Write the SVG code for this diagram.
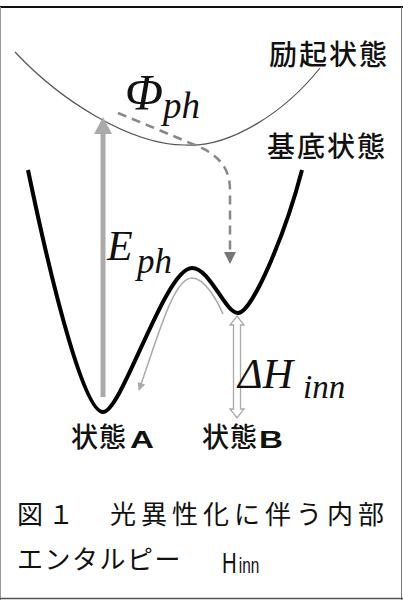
<svg xmlns="http://www.w3.org/2000/svg" width="403" height="600" viewBox="0 0 403 600">
<style>
.jp{font-family:"Noto Sans CJK JP","Noto Sans",sans-serif;fill:#111}
.lb{font-weight:500}
.m{font-family:"Liberation Serif","Times New Roman",serif;font-style:italic;fill:#111}
.b{font-family:"Liberation Sans",Arial,sans-serif;font-weight:bold;fill:#111}
.s{font-family:"Liberation Sans",Arial,sans-serif;fill:#111}
</style>
<defs>
<clipPath id="clipR"><rect x="0" y="0" width="388" height="600"/></clipPath>
<marker id="gArrow" viewBox="0 0 10 10" refX="9" refY="5" markerWidth="10" markerHeight="8" markerUnits="userSpaceOnUse" orient="auto">
<path d="M0,0 L10,5 L0,10 Z" fill="#aaa"/>
</marker>
</defs>
<rect x="0" y="0" width="403" height="600" fill="#fff"/>
<g id="frame">
<line x1="0" y1="7" x2="403" y2="7" stroke="#111" stroke-width="2"/>
<line x1="0.5" y1="7" x2="0.5" y2="600" stroke="#999" stroke-width="1"/>
<line x1="401.5" y1="7" x2="401.5" y2="600" stroke="#777" stroke-width="1"/>
<line x1="0" y1="598.5" x2="403" y2="598.5" stroke="#555" stroke-width="1.5"/>
</g>
<g id="curves">
<path id="excited-curve" d="M15,52 C60,100 130,145 185,145 C230,148 285,112 320,68" fill="none" stroke="#555" stroke-width="1.2"/>
<path id="ground-curve" d="M28,170 C55,300 85,412 103,412 C122,412 165,268 192,268 C210,268 225,313 238,313 C252,313 285,235 302,170" fill="none" stroke="#000" stroke-width="4"/>
</g>
<g id="connectors">
<line x1="103" y1="397" x2="103" y2="130" stroke="#aaa" stroke-width="5"/>
<path d="M103,117 L94,134 L112,134 Z" fill="#aaa"/>
<path d="M118,113 L195,145 C215,153 230,165 230,190 L230,254" fill="none" stroke="#888" stroke-width="2.5" stroke-dasharray="9,6"/>
<path d="M224,252 L236,252 L230,264 Z" fill="#777"/>
<path d="M223,314 C218,302 205,278 192,278 C174,278 160,330 139,390" fill="none" stroke="#aaa" stroke-width="1.5" marker-end="url(#gArrow)"/>
<path d="M237,316 L244,325 L240.5,325 L240.5,409 L244,409 L237,418 L230,409 L233.5,409 L233.5,325 L230,325 Z" fill="#fff" stroke="#aaa" stroke-width="1.3"/>
</g>
<g id="label-excited" clip-path="url(#clipR)">
<text class="jp lb" x="269" y="65" font-size="28" letter-spacing="2">励起状態</text>
</g>
<g id="label-ground" clip-path="url(#clipR)">
<text class="jp lb" x="267" y="157" font-size="28" letter-spacing="2">基底状態</text>
</g>
<g id="label-phi">
<text class="m" x="125" y="109" font-size="50">Φ</text>
<text class="m" x="163" y="118" font-size="37">ph</text>
</g>
<g id="label-E">
<text class="m" x="107" y="260" font-size="42">E</text>
<text class="m" x="137" y="273" font-size="35">ph</text>
</g>
<g id="label-dH">
<text class="m" x="238" y="388" font-size="42">ΔH</text>
<text class="m" x="303" y="398" font-size="33">inn</text>
</g>
<g id="state-A">
<text class="jp lb" x="71" y="447" font-size="27" letter-spacing="1">状態</text>
<text class="b" x="130" y="448" font-size="23" textLength="24" lengthAdjust="spacingAndGlyphs">A</text>
</g>
<g id="state-B">
<text class="jp lb" x="202" y="447" font-size="27" letter-spacing="1">状態</text>
<text class="b" x="259" y="448" font-size="23" textLength="24" lengthAdjust="spacingAndGlyphs">B</text>
</g>
<g id="caption">
<text class="jp" x="17" y="524" font-size="26" letter-spacing="5">図１　光異性化に伴う内部</text>
<text class="jp" x="17" y="569" font-size="26" letter-spacing="1.5">エンタルピー</text>
<text class="s" transform="translate(222,573) scale(0.7,1)" font-size="29">H<tspan font-size="22" dx="3">inn</tspan></text>
</g>
</svg>
